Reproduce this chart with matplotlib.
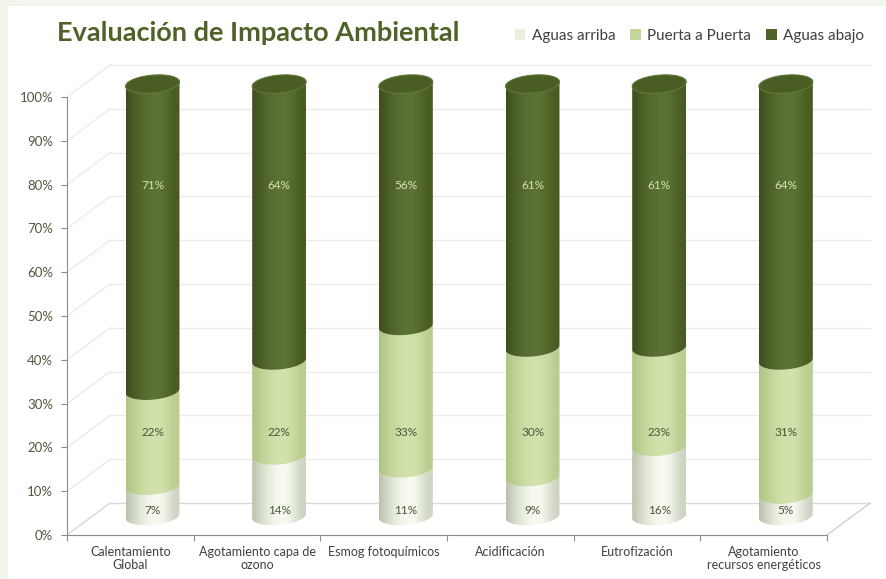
import numpy as np
import matplotlib
matplotlib.use("Agg")
import matplotlib.pyplot as plt
from matplotlib.patches import PathPatch, Polygon, Rectangle, Patch
from matplotlib.path import Path
import matplotlib.colors as mcolors

# ---------------- data ----------------
categories = ["Calentamiento\nGlobal", "Agotamiento capa de\nozono", "Esmog fotoquímicos",
              "Acidificación", "Eutrofización", "Agotamiento\nrecursos energéticos"]
series_names = ["Aguas arriba", "Puerta a Puerta", "Aguas abajo"]
aguas_arriba = [7, 14, 11, 9, 16, 5]
puerta_a_puerta = [22, 22, 33, 30, 23, 31]
aguas_abajo = [71, 64, 56, 61, 61, 64]
ytick_values = [0, 10, 20, 30, 40, 50, 60, 70, 80, 90, 100]
ytick_labels = [f"{v}%" for v in ytick_values]
title = "Evaluación de Impacto Ambiental"

# ---------------- style ----------------
FONT = ["Lato", "DejaVu Sans"]
plt.rcParams['font.family'] = FONT
series_colors = ['#EBF1DE', '#C3D69B', '#4F6228']
# (left edge, highlight, right edge) for cylinder shading
series_shades = [('#b9c2ab', '#f7faf1', '#cdd4c2'),
                 ('#aec483', '#d2e2ac', '#b8cd8f'),
                 ('#3e4e1d', '#5c7334', '#485b21')]
label_colors = ['#4b5638', '#4b5638', '#d5e2b8']
label_heights = [5.7, 23.5, 79.7]      # where the chart placed the value labels
depth_dx, depth_dy = 0.34, 7.3          # 3-D depth offset in data units
cyl_dx = 0.175
cyl_a, cyl_b = 0.213, 2.05
cyl_base, cyl_scale = 4.34, 0.986
tilt = 2.4
grid_color = '#ebebeb'
axis_color = '#8c8c8c'

W, H = 887, 579
fig = plt.figure(figsize=(W / 100, H / 100), dpi=100)
fig.patch.set_facecolor('#f2f5ec')
fig.add_artist(Rectangle((8 / W, 0), 1, 1 - 6 / H, transform=fig.transFigure,
                         facecolor='white', edgecolor='none', zorder=-10))

ax = fig.add_axes([67 / W, 44 / H, (882 - 67) / W, (535 - 58) / H])
ax.set_facecolor('none')
ax.set_autoscale_on(False)
n = len(categories)
ax.set_xlim(-0.5, -0.5 + (882 - 67) / 126.67)
ax.set_ylim(0, (535 - 58) / 4.38)

# back wall and floor
x_left, x_right = -0.5, n - 0.5
for v in ytick_values:
    c = grid_color if v > 0 else '#d9d9d9'
    ax.plot([x_left + depth_dx, x_right + depth_dx], [v + depth_dy, v + depth_dy],
            color=c, lw=1.0, zorder=1)
    ax.plot([x_left, x_left + depth_dx], [v, v + depth_dy], color=c, lw=1.0, zorder=1)
ax.plot([x_right, x_right + depth_dx], [0, depth_dy], color='#d0d0d0', lw=1.0, zorder=1)


def shade_row(cols, N=128):
    l, p, r = [np.array(mcolors.to_rgb(c)) for c in cols]
    t = np.linspace(0, 1, N)
    out = np.zeros((N, 3))
    peak = 0.58
    for i, ti in enumerate(t):
        if ti < peak:
            s = np.sin(ti / peak * np.pi / 2)
            out[i] = l + (p - l) * s
        else:
            s = np.sin((ti - peak) / (1 - peak) * np.pi / 2) ** 2
            out[i] = p + (r - p) * s
    return out[None, :, :]


def arc(xc, yc, th0, th1, m=60):
    th = np.linspace(th0, th1, m)
    xs = xc + cyl_a * np.cos(th)
    ys = yc + cyl_b * np.sin(th) + tilt * (cyl_a * np.cos(th))
    return np.column_stack([xs, ys])


def to_cyl(v):
    return cyl_base + v * cyl_scale


series = [aguas_arriba, puerta_a_puerta, aguas_abajo]
for i in range(n):
    xc = i + cyl_dx
    bottom = 0.0
    for s, vals in enumerate(series):
        v = vals[i]
        y0, y1 = to_cyl(bottom), to_cyl(bottom + v)
        lower = arc(xc, y0, np.pi, 2 * np.pi)
        if s == len(series) - 1:
            upper = arc(xc, y1, 0, np.pi)
        else:
            upper = arc(xc, y1, 2 * np.pi, np.pi)
        verts = np.vstack([lower, upper, lower[:1]])
        path = Path(verts, closed=True)
        patch = PathPatch(path, transform=ax.transData, facecolor='none', edgecolor='none')
        im = ax.imshow(shade_row(series_shades[s]), extent=[xc - cyl_a, xc + cyl_a, y0 - 4, y1 + 4],
                       aspect='auto', interpolation='bilinear', zorder=3 + s * 0.01)
        im.set_clip_path(patch)
        if s == len(series) - 1:
            top = arc(xc, y1, 0, 2 * np.pi, 120)
            ax.add_patch(Polygon(top, closed=True, facecolor='#4a5d24', edgecolor='#62793a',
                                 lw=0.8, zorder=4))
        ax.text(xc, label_heights[s], f"{v}%", ha='center', va='center',
                fontsize=8.5, color=label_colors[s], zorder=6)
        bottom += v

# axes
for sp in ['top', 'right']:
    ax.spines[sp].set_visible(False)
ax.spines['left'].set_bounds(0, 100)
ax.spines['bottom'].set_bounds(-0.5, n - 0.5)
ax.spines['left'].set_color(axis_color)
ax.spines['bottom'].set_color(axis_color)
ax.set_yticks(ytick_values, labels=ytick_labels)
ax.tick_params(axis='y', direction='out', length=4, color=axis_color,
               labelcolor='#4d5a3c', labelsize=9.5, pad=6)
ax.set_xticks(np.arange(-0.5, n), labels=[''] * (n + 1))
ax.set_xticks(np.arange(n), labels=categories, minor=True)
ax.tick_params(axis='x', which='major', direction='out', length=4, color=axis_color)
ax.tick_params(axis='x', which='minor', length=0, pad=8, labelsize=9, labelcolor='#404040')
for lab in ax.get_xticklabels(minor=True):
    lab.set_linespacing(1.1)

# title
t = fig.text(57 / W, 1 - 33 / H, title, ha='left', va='center', fontsize=20,
             fontweight='bold', color='#4F6228')
fig.canvas.draw()
bb = t.get_window_extent()
t.set_fontsize(20 * 403 / bb.width)

# legend
handles = [Patch(facecolor=c, edgecolor='none') for c in series_colors]
fig.legend(handles, series_names, loc='center right', bbox_to_anchor=(878 / W, 1 - 36 / H),
           ncol=3, frameon=False, fontsize=11, handlelength=0.7, handleheight=0.7,
           handletextpad=0.4, columnspacing=1.0, labelcolor='#404040')

fig.savefig("out.png", dpi=100)
